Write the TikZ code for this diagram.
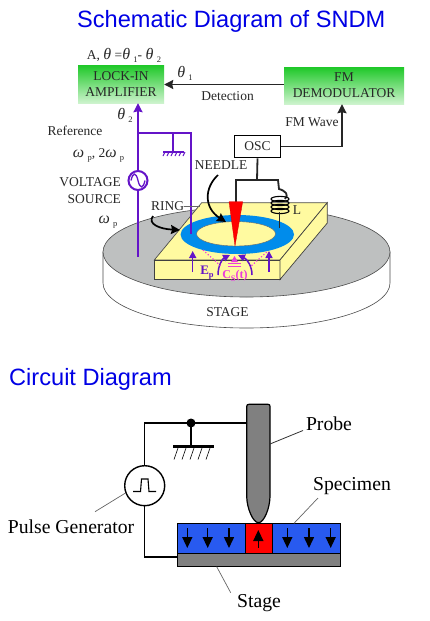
\documentclass[tikz,border=0pt]{standalone}
\usepackage{fontspec}
\setmainfont{Liberation Serif}
\newfontfamily\arialf{Liberation Sans}
\usetikzlibrary{arrows.meta,calc}
\definecolor{purp}{RGB}{100,20,200}
\definecolor{pinkc}{RGB}{235,60,220}
\definecolor{ringblue}{RGB}{0,140,235}
\definecolor{tableY}{RGB}{255,250,160}
\definecolor{diskG}{RGB}{190,192,192}
\definecolor{specB}{RGB}{40,90,240}
\definecolor{txt}{RGB}{40,40,40}
\definecolor{gtop}{RGB}{30,200,40}
\definecolor{gbot}{RGB}{205,243,205}
\newcommand{\subs}[1]{\raisebox{-3pt}{\fontsize{8.5}{10}\selectfont #1}}
\newcommand{\gk}[1]{{\fontsize{16}{15}\selectfont\textit{#1}}}
\tikzset{
 ttl/.style={font=\arialf\fontsize{23.6}{26}\selectfont,text=blue!90!black,inner sep=0,anchor=west},
 lab/.style={font=\fontsize{13.5}{15}\selectfont,text=txt,inner sep=0},
 biglab/.style={font=\fontsize{19.7}{22}\selectfont,text=black,inner sep=0},
 greenbox/.style={draw=none,top color=gtop,bottom color=gbot,minimum width=#1,align=center,inner sep=0,font=\fontsize{13.5}{16}\selectfont,text=txt},
 wire/.style={line width=1.8pt,black!85},
 pwire/.style={line width=1.8pt,purp},
 thinw/.style={line width=1.4pt,black},
 lead/.style={line width=.7pt,black!60},
 parrow/.style={line width=1.5pt,purp,-{Stealth[length=7pt,width=7pt,inset=0pt]}},
 pdot/.style={line width=1.2pt,pinkc,dotted},
 down/.style={line width=1.5pt,black,-{Stealth[length=11pt,width=10pt,inset=0pt]}},
 bigtip/.style={-{Stealth[length=9pt,width=9pt,inset=1pt]}},
}
\begin{document}
\begin{tikzpicture}[x=1pt,y=-1pt]
\useasboundingbox (0,0) rectangle (430,621);
\fill[white] (0,0) rectangle (430,621);
% titles
\node[ttl] (title1) at (77,21) {Schematic Diagram of SNDM};
\node[ttl] (title2) at (9,379) {Circuit Diagram};
% stage
\fill[white,draw=black!70,line width=.6pt] (103,252) -- (103,283) arc[start angle=180,end angle=360,x radius=143.5,y radius=-45] -- (390,252) -- cycle;
\fill[diskG,draw=black!70,line width=.6pt] (246.5,252) ellipse[x radius=143.5,y radius=45];
% table
\fill[tableY,draw=black!70,line width=.7pt] (201.7,202.7) -- (327.3,202.7) -- (280,260) -- (154.3,260) -- cycle;
\fill[tableY,draw=black!75,line width=.7pt] (154.3,260) rectangle (280,279.5);
\fill[tableY,draw=black!75,line width=.7pt] (280,260) -- (327.3,202.7) -- (327.3,223) -- (280,279.5) -- cycle;
% ring
\fill[ringblue] (237.3,234.5) ellipse[x radius=56.7,y radius=19.5];
\fill[tableY,draw=black!60,line width=.4pt] (236,233.8) ellipse[x radius=39.5,y radius=12.2];
% boxes
\node[greenbox=86pt,minimum height=38pt] (lock) at (121,84) {LOCK-IN\\AMPLIFIER};
\node[greenbox=120pt,minimum height=37pt] (fm) at (344,85.5) {FM\\DEMODULATOR};
\node[draw=black,line width=1.7pt,minimum width=46pt,minimum height=22pt,inner sep=0,font=\fontsize{13.5}{15}\selectfont,text=txt] (osc) at (257.5,146.5) {OSC};
% black connectors
\draw[wire,bigtip] (fm.west |- 0,84.5) -- (lock.east |- 0,84.5);
\coordinate (fmc) at (342,146.5);
\draw[wire,bigtip] (osc.east) -- (fmc) -- (fmc |- fm.south);
\coordinate (split) at (257,180);
\coordinate (needletop) at (236,203);
\draw[wire] (osc.south) -- (split);
\draw[wire] (needletop) -- (236,180) -- (278,180) -- (279,189) .. controls (286,191) and (289,195) .. (285,199);
% coil
\foreach \yy in {199,203,207,211}{\draw[line width=1.1pt,black] (280,\yy) ellipse[x radius=9,y radius=2.6];}
\coordinate (coilend) at (279.5,228);
\draw[wire] (279.5,212) -- (coilend);
% needle
\fill[red,draw=red!85!black,line width=.3pt] (229,201.7) -- (242.7,201.7) -- (235,246) -- cycle;
% purple
\coordinate (pbot) at (138,257);
\coordinate (pbr) at (138,133);
\coordinate (gnd1) at (173,133);
\coordinate (gnd2) at (173,152);
\coordinate (rgdot) at (191,234);
\node[circle,draw=purp,line width=2pt,minimum size=19pt,inner sep=0] (vs) at (138,180.5) {};
\draw[pwire,bigtip] (vs.north) -- (pbr) -- (pbr |- lock.south);
\draw[pwire] (vs.south) -- (pbot);
\draw[pwire] (pbr) -- (191,133) -- (rgdot);
\draw[pwire] (gnd1) -- (gnd2);
\draw[line width=2pt,purp] (163,152) -- (184,152);
\foreach \xx in {165,169,173,177,181,185}{\draw[purp,line width=1pt] (\xx,152) -- (\xx-2,156);}
\draw[purp,line width=1.3pt] (131,180.5) .. controls (133,172) and (136,172) .. (138,180.5) .. controls (140,189) and (143,189) .. (145,180.5);
% field arrows
\draw[parrow] (192.7,272) -- (192.7,251);
\draw[parrow] (269,272) -- (269,251);
\draw[parrow] (218,275) .. controls (218,266) and (222,259) .. (230,255);
\draw[parrow] (252,275) .. controls (252,266) and (247,259) .. (238,255);
\draw[pdot] (203,250) -- (222,267);
\draw[pdot] (266.7,252) -- (250,267);
\draw[pinkc,line width=1pt] (228,263) -- (241,263) (228,266) -- (241,266);
\fill[pinkc] (234.5,256) -- (231,262) -- (238,262) -- cycle;
% black curved arrows
\draw[line width=1.7pt,black,bigtip] (218,175) .. controls (204,188) and (204,208) .. (226,222);
\draw[line width=1.7pt,black,bigtip] (153,216) .. controls (147,224) and (160,229) .. (180,230);
\draw[line width=.6pt,black!60] (184,206) -- (200,206);
% labels top
\node[lab] (a) at (124,55) {A, \gk{θ} =\gk{θ} \subs{1}- \gk{θ} \subs{2}};
\node[lab] (t1) at (185,73) {\gk{θ} \subs{1}};
\node[lab] (det) at (227.5,96) {Detection};
\node[lab] (t2) at (125,115.5) {\gk{θ} \subs{2}};
\node[lab] (ref) at (75,131) {Reference};
\node[lab] (om) at (98.5,155) {\gk{ω} \subs{p}, 2\gk{ω} \subs{p}};
\node[lab,anchor=east,align=right] (vsl) at (121,190.5) {VOLTAGE\\[2pt]SOURCE};
\node[lab] (op) at (108,222) {\gk{ω} \subs{p}};
\node[lab] (fmw) at (312,122) {FM Wave};
\node[lab] (needl) at (221,165) {NEEDLE};
\node[lab] (ringl) at (167.5,206) {RING};
\node[lab] (ll) at (297,210) {L};
\node[lab] (stg) at (227.5,312) {STAGE};
\node[lab,text=purp,font=\bfseries\fontsize{13}{15}\selectfont] (ep) at (207,273) {E\subs{p}};
\node[lab,text=pinkc,font=\bfseries\fontsize{12}{14}\selectfont] (cs) at (235,275.5) {C\subs{S}(t)};
% circuit
\coordinate (stagew) at (177.3,557);
\coordinate (topc) at (144.7,423);
\coordinate (dotc) at (191,423);
\coordinate (gbar) at (191,447);
\node[circle,draw=black,line width=1.4pt,fill=white,minimum size=40pt,inner sep=0] (pg) at (144.7,485.7) {};
\draw[line width=1.1pt] (133,491.5) -- (140.5,491.5) -- (141.5,479) -- (148,479) -- (149,491.5) -- (156,491.5);
% stage and specimen
\node[draw=black,fill=black!50,line width=.7pt,minimum width=163pt,minimum height=13pt,inner sep=0] (st) at (258.8,559.8) {};
\node[draw=black,fill=specB,line width=.7pt,minimum width=163pt,minimum height=30pt,inner sep=0] (spec) at (258.8,538.3) {};
\node[draw=black,fill=red,line width=.7pt,minimum width=26.5pt,minimum height=30pt,inner sep=0] (dom) at (258.8,538.3) {};
% probe
\draw[line width=1.2pt,black,fill=black!50] (246.7,496) -- (246.7,406.5) .. controls (246.7,405) and (247.5,404.3) .. (249,404.3) -- (268,404.3) .. controls (269.5,404.3) and (270,405) .. (270,406.5) -- (270,496) .. controls (270,508) and (264,522.7) .. (258.5,522.7) .. controls (253,522.7) and (246.7,508) .. (246.7,496) -- cycle;
\coordinate (pleft) at (246.7,423);
\draw[thinw] (pg.north) -- (topc) -- (pleft);
\draw[thinw] (pg.south) -- (144.7,557) -- (stagew);
\fill (dotc) circle[radius=4.5];
\draw[line width=1.1pt] (dotc) -- (gbar);
\draw[line width=3pt] (173,446.5) -- (214,446.5);
\foreach \xx in {178,186,194,202,210}{\draw[line width=.6pt] (\xx,448) -- (\xx-4,459.5);}
% arrows
\foreach \xx in {187.3,207.7,229,287.3,309,330.7}{\draw[down] (\xx,528) -- (\xx,548);}
\draw[down] (258.3,547.5) -- (258.3,530);
% labels
\node[biglab] (pl) at (329,423.5) {Probe};
\node[biglab] (pgl) at (71,527) {Pulse Generator};
\node[biglab] (sl) at (352,486) {Specimen};
\node[biglab] (stl) at (259,603) {Stage};
\coordinate (p1) at (270,444);
\coordinate (p2) at (303,430.5);
\coordinate (s1) at (294,523.3);
\coordinate (s2) at (318,498);
\coordinate (t1a) at (216.7,566.7);
\coordinate (t2a) at (230.7,592.7);
\coordinate (g1) at (125,493.3);
\coordinate (g2) at (95,511.7);
\draw[line width=.8pt,black!80] (p1) -- (p2);
\draw[lead] (s1) -- (s2);
\draw[lead] (t1a) -- (t2a);
\draw[lead] (g1) -- (g2);
\end{tikzpicture}
\end{document}
